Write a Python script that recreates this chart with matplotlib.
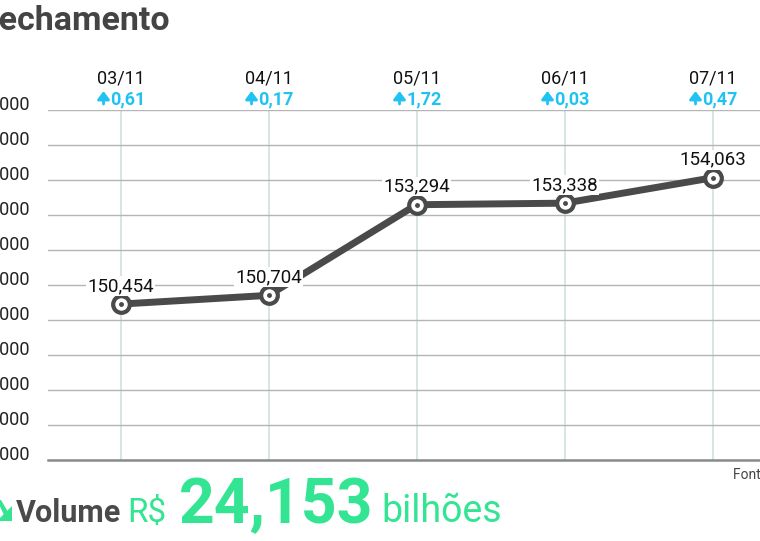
import matplotlib.pyplot as plt
from matplotlib.patches import Polygon
from matplotlib.transforms import blended_transform_factory, offset_copy

# data
dates = ["03/11", "04/11", "05/11", "06/11", "07/11"]
closes = [150454, 150704, 153294, 153338, 154063]
close_labels = ["150,454", "150,704", "153,294", "153,338", "154,063"]
changes = ["0,61", "0,17", "1,72", "0,03", "0,47"]
yticks = [146000, 147000, 148000, 149000, 150000, 151000, 152000, 153000, 154000, 155000, 156000]
ytick_labels = ["146.000", "147.000", "148.000", "149.000", "150.000", "151.000",
                "152.000", "153.000", "154.000", "155.000", "156.000"]

W, H = 760, 541
DARK = "#4a4a4a"
CYAN = "#1fc3f3"
GREEN = "#33e593"
ROBOTO = ["Roboto", "DejaVu Sans"]


def px(x, y):
    # pixel position (from top-left) -> figure fraction
    return x / W, 1 - y / H


fig = plt.figure(figsize=(W / 100, H / 100), dpi=100)
ax = fig.add_axes([48 / W, (H - 460) / H, 738.5 / W, 350 / H])

xs = list(range(len(dates)))
ax.plot(xs, closes, color=DARK, lw=5, solid_capstyle="butt", zorder=3)
ax.plot(xs, closes, ls="none", marker="o", ms=12, mfc="white", mec=DARK, mew=3, zorder=4)
ax.plot(xs, closes, ls="none", marker="o", ms=2.5, mfc=DARK, mec=DARK, zorder=5)

for x, y, lab in zip(xs, closes, close_labels):
    ax.annotate(lab, (x, y), xytext=(0, 9.5), textcoords="offset points",
                ha="center", va="baseline", fontsize=13.5, family=ROBOTO, color="#111",
                bbox=dict(boxstyle="square,pad=0.05", fc="white", ec="none"), zorder=6)

ax.set_xlim(-0.49, 4.5)
ax.set_ylim(146000, 156000)
ax.set_xticks(xs)
ax.set_yticks(yticks)
ax.set_yticklabels(ytick_labels, fontsize=13, family=ROBOTO, color="#222")
for t in ax.get_yticklabels():
    t.set_va("baseline")
ax.tick_params(axis="both", length=0)
ax.tick_params(axis="y", pad=13)
ax.tick_params(axis="x", labelbottom=False)
ax.grid(axis="y", color="#b5b5b5", lw=1)
ax.grid(axis="x", color="#cfe2de", lw=1.2)
ax.set_axisbelow(True)
for s in ["top", "right", "left"]:
    ax.spines[s].set_visible(False)
ax.spines["bottom"].set_color("#8a8a8a")
ax.spines["bottom"].set_linewidth(1.8)

# date and change labels above the plot
tr = blended_transform_factory(ax.transData, ax.transAxes)
head_tr = offset_copy(tr, fig=fig, x=-17, y=13, units="dots")
for x, d, c in zip(xs, dates, changes):
    ax.text(x, 1.077, d, transform=tr, ha="center", va="baseline", fontsize=13,
            family=ROBOTO, color="#111", clip_on=False)
    ax.annotate("", xy=(x, 1.017), xycoords=head_tr, xytext=(0, -13),
                textcoords="offset pixels", annotation_clip=False,
                arrowprops=dict(arrowstyle="-|>,head_length=0.4,head_width=0.3",
                                color=CYAN, lw=2.0, mutation_scale=12,
                                shrinkA=0, shrinkB=0))
    ax.annotate(c, (x, 1.017), xycoords=tr, xytext=(-7.5, 0),
                textcoords="offset points", ha="left", va="baseline", fontsize=13,
                family=ROBOTO, weight="bold", color=CYAN, annotation_clip=False)

# title (cropped on the left like the source)
fig.text(*px(-19, 30), "Fechamento", fontsize=24.5, weight="bold", family=ROBOTO,
         color="#444", va="baseline", ha="left")

# source note (cropped on the right)
fig.text(*px(733, 479), "Fonte: B3", fontsize=10, family=ROBOTO, color="#444",
         va="baseline", ha="left")

# volume line at the bottom
icon = Polygon([(12, H - 506), (12, H - 521), (-3, H - 521)], closed=True,
               fc=GREEN, ec="none", transform=None)
fig.patches.append(icon)
stem = Polygon([(-3, H - 500), (1, H - 500), (8, H - 512), (4, H - 515)], closed=True,
               fc=GREEN, ec="none", transform=None)
fig.patches.append(stem)
fig.text(*px(16, 522), "Volume", fontsize=22, weight="bold", family=ROBOTO,
         color=DARK, va="baseline", ha="left")
fig.text(*px(127, 522), "R$", fontsize=24, family=ROBOTO, color=GREEN,
         va="baseline", ha="left")
fig.text(*px(179, 523), "24,153", fontsize=45, weight="bold", family=ROBOTO,
         color=GREEN, va="baseline", ha="left")
fig.text(*px(381, 522), "bilhões", fontsize=27, family=ROBOTO, color=GREEN,
         va="baseline", ha="left")

fig.savefig("out.png", dpi=100)
